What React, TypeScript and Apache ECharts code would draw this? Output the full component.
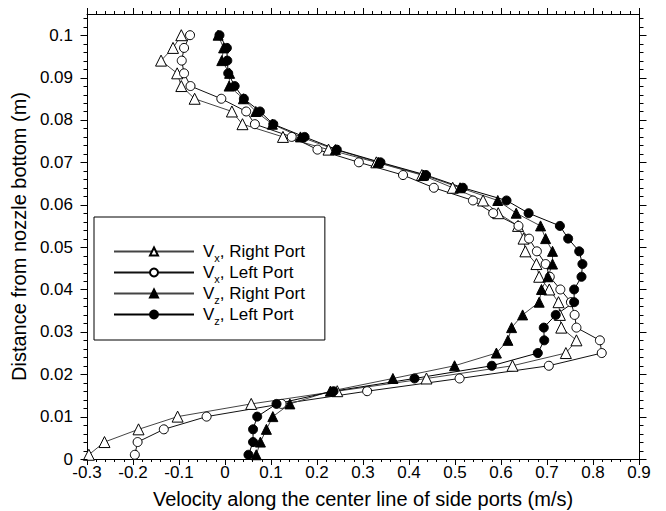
import React, { useEffect, useRef } from "react";
import * as echarts from "echarts";

// Distance from nozzle bottom (m) for every measured point
const distance = [
  0.001, 0.004, 0.007, 0.010, 0.013, 0.016, 0.019, 0.022, 0.025, 0.028, 0.031,
  0.034, 0.037, 0.040, 0.043, 0.046, 0.049, 0.052, 0.055, 0.058, 0.061, 0.064,
  0.067, 0.070, 0.073, 0.076, 0.079, 0.082, 0.085, 0.088, 0.091, 0.094, 0.097,
  0.100,
];

// Velocities (m/s)
const vxRight = [
  -0.296, -0.262, -0.188, -0.103, 0.057, 0.244, 0.438, 0.625, 0.741, 0.764, 0.731,
  0.728, 0.725, 0.705, 0.683, 0.677, 0.653, 0.649, 0.637, 0.594, 0.561, 0.495,
  0.428, 0.329, 0.225, 0.126, 0.038, 0.015, -0.066, -0.095, -0.104, -0.139, -0.113,
  -0.095,
];
const vxLeft = [
  -0.196, -0.19, -0.133, -0.04, 0.123, 0.309, 0.51, 0.704, 0.819, 0.815, 0.764,
  0.76, 0.752, 0.729, 0.706, 0.697, 0.678, 0.661, 0.638, 0.583, 0.539, 0.454,
  0.387, 0.291, 0.201, 0.145, 0.065, 0.046, -0.008, -0.075, -0.089, -0.094, -0.089,
  -0.076,
];
const vzRight = [
  0.068, 0.077, 0.09, 0.104, 0.141, 0.229, 0.365, 0.499, 0.59, 0.615, 0.623,
  0.647, 0.683, 0.688, 0.702, 0.712, 0.712, 0.697, 0.686, 0.633, 0.593, 0.511,
  0.432, 0.333, 0.24, 0.164, 0.103, 0.067, 0.04, 0.009, 0.01, -0.007, -0.003,
  -0.015,
];
const vzLeft = [
  0.051, 0.061, 0.061, 0.07, 0.112, 0.236, 0.412, 0.58, 0.68, 0.694, 0.693,
  0.719, 0.759, 0.759, 0.775, 0.777, 0.77, 0.746, 0.728, 0.66, 0.612, 0.517,
  0.437, 0.338, 0.243, 0.173, 0.105, 0.076, 0.041, 0.021, 0.007, 0.005, 0.004,
  -0.012,
];

const seriesNames = ["Vx, Right Port", "Vx, Left Port", "Vz, Right Port", "Vz, Left Port"];
const legendRich: Record<string, string> = {
  "Vx, Right Port": "{n|V}{s|x}{n|, Right Port}",
  "Vx, Left Port": "{n|V}{s|x}{n|, Left Port}",
  "Vz, Right Port": "{n|V}{s|z}{n|, Right Port}",
  "Vz, Left Port": "{n|V}{s|z}{n|, Left Port}",
};

// Axis ticks
const yMajorTicks = [0, 0.01, 0.02, 0.03, 0.04, 0.05, 0.06, 0.07, 0.08, 0.09, 0.1];
const yMinorTicks = [
  0.002, 0.004, 0.006, 0.008, 0.012, 0.014, 0.016, 0.018, 0.022, 0.024, 0.026, 0.028,
  0.032, 0.034, 0.036, 0.038, 0.042, 0.044, 0.046, 0.048, 0.052, 0.054, 0.056, 0.058,
  0.062, 0.064, 0.066, 0.068, 0.072, 0.074, 0.076, 0.078, 0.082, 0.084, 0.086, 0.088,
  0.092, 0.094, 0.096, 0.098, 0.102, 0.104,
];
const xMin = -0.3;
const xMax = 0.9;
const xStep = 0.1;
const yMin = 0;
const yMax = 0.105;

const FONT = "'Liberation Sans', Arial, sans-serif";

export default function App() {
  const ref = useRef<HTMLDivElement>(null);
  useEffect(() => {
    if (!ref.current) return;
    const chart = echarts.init(ref.current, null, { renderer: "svg" });
    const pts = (vals: number[]) => vals.map((v, i) => [v, distance[i]]);
    const black = "#000";
    const xCommon = (pos: "bottom" | "top", labels: boolean) => ({
      type: "value",
      position: pos,
      min: xMin,
      max: xMax,
      interval: xStep,
      axisLine: { show: true, onZero: false, lineStyle: { color: black, width: 1 } },
      axisTick: { show: true, inside: false, length: 6, lineStyle: { color: black } },
      minorTick: { show: true, splitNumber: 5, length: 3, lineStyle: { color: black } },
      splitLine: { show: false },
      axisLabel: {
        show: labels,
        margin: 5,
        color: black,
        fontSize: 17,
        fontFamily: FONT,
        formatter: (v: number) => String(Number(v.toFixed(2))),
      },
    });
    const yAx = (pos: "left" | "right", labels: boolean) => ({
      type: "value",
      position: pos,
      min: yMin,
      max: yMax,
      interval: 0.01,
      axisLine: { show: true, onZero: false, lineStyle: { color: black, width: 1 } },
      axisTick: { show: false },
      splitLine: { show: false },
      axisLabel: {
        show: labels,
        margin: 14,
        color: black,
        fontSize: 17,
        fontFamily: FONT,
        showMaxLabel: false,
        formatter: (v: number) => String(Number(v.toFixed(3))),
      },
    });

    const mk = (
      name: string,
      vals: number[],
      symbol: string,
      size: number,
      filled: boolean,
      lineColor: string
    ) => ({
      name,
      type: "line",
      xAxisIndex: 0,
      yAxisIndex: 0,
      data: pts(vals),
      symbol,
      symbolSize: size,
      showAllSymbol: true,
      lineStyle: { color: lineColor, width: 1 },
      itemStyle: { color: filled ? black : "#fff", borderColor: black, borderWidth: 1 },
      emphasis: { disabled: true },
    });

    chart.setOption({
      animation: false,
      grid: { left: 87, right: 27, top: 14, bottom: 52, containLabel: false, outerBoundsMode: "none" },
      xAxis: [
        {
          ...xCommon("bottom", true),
          name: "Velocity along the center line of side ports (m/s)",
          nameLocation: "middle",
          nameGap: 30,
          nameTextStyle: { color: black, fontSize: 20, fontFamily: FONT },
        },
        xCommon("top", false),
      ],
      yAxis: [
        {
          ...yAx("left", true),
          name: "Distance from nozzle bottom (m)",
          nameLocation: "middle",
          nameGap: 53,
          nameTextStyle: { color: black, fontSize: 20, fontFamily: FONT },
        },
        yAx("right", false),
      ],
      legend: {
        orient: "vertical",
        left: 94,
        top: 217,
        padding: [23, 20, 14, 19],
        itemWidth: 80,
        itemHeight: 10,
        itemGap: -2,
        borderColor: black,
        borderWidth: 1,
        backgroundColor: "#fff",
        selectedMode: false,
        data: seriesNames,
        formatter: (name: string) => legendRich[name] || name,
        textStyle: {
          color: black,
          fontFamily: FONT,
          fontSize: 17,
          padding: [0, 0, 0, 4],
          rich: {
            n: { fontSize: 17, fontFamily: FONT, color: black, lineHeight: 20 },
            s: { fontSize: 11, fontFamily: FONT, color: black, lineHeight: 20, padding: [12, 0, 0, 0] },
          },
        },
      },
      series: [
        mk(seriesNames[0], vxRight, "triangle", 11, false, "#444"),
        mk(seriesNames[1], vxLeft, "circle", 9, false, "#111"),
        mk(seriesNames[2], vzRight, "triangle", 10, true, "#444"),
        mk(seriesNames[3], vzLeft, "circle", 9, true, "#000"),
      ],
    });

    // y-axis ticks on both sides, positioned through the chart's own scales
    const toPx = (p: number[]): number[] | null => {
      let r: any = null;
      try {
        r = chart.convertToPixel({ seriesIndex: 0 }, p);
      } catch (e) {
        r = null;
      }
      if (!r || !isFinite(r[0]) || !isFinite(r[1])) {
        try {
          r = chart.convertToPixel({ gridIndex: 0 }, p);
        } catch (e) {
          r = null;
        }
      }
      return r && isFinite(r[0]) && isFinite(r[1]) ? r : null;
    };
    const tickEls: any[] = [];
    const addTicks = (vals: number[], len: number) => {
      vals.forEach((v) => {
        const pl = toPx([xMin, v]);
        const pr = toPx([xMax, v]);
        if (!pl || !pr) return;
        const y = Math.round(pl[1]) + 0.5;
        const xl = Math.round(pl[0]) + 0.5;
        const xr = Math.round(pr[0]) + 0.5;
        tickEls.push({
          type: "line",
          silent: true,
          z: 10,
          shape: { x1: xl - len, y1: y, x2: xl, y2: y },
          style: { stroke: black, lineWidth: 1 },
        });
        tickEls.push({
          type: "line",
          silent: true,
          z: 10,
          shape: { x1: xr, y1: y, x2: xr + len, y2: y },
          style: { stroke: black, lineWidth: 1 },
        });
      });
    };
    addTicks(yMajorTicks, 7);
    addTicks(yMinorTicks, 4);
    chart.setOption({ graphic: { elements: tickEls } });

    return () => chart.dispose();
  }, []);
  return (
    <div
      ref={ref}
      style={{ position: "absolute", left: 0, top: 0, width: 666, height: 511, background: "#fff" }}
    />
  );
}
